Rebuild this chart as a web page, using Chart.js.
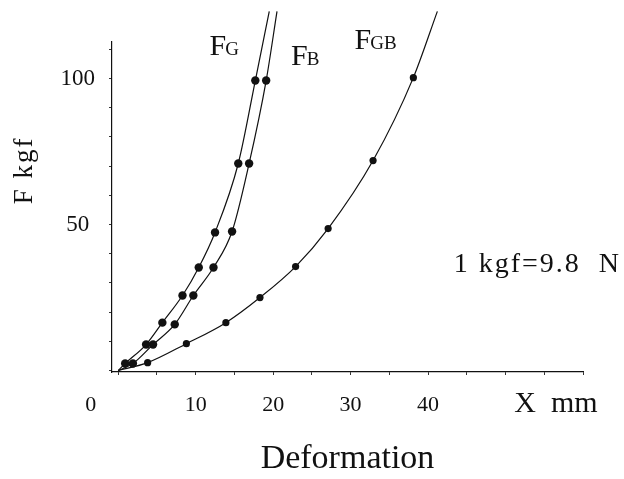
<!DOCTYPE html>
<html>
<head>
<meta charset="utf-8">
<script src="https://cdn.jsdelivr.net/npm/chart.js@4.4.0/dist/chart.umd.min.js"></script>
<style>
  html, body { margin: 0; padding: 0; background: #fff; }
  #wrap { width: 624px; height: 479px; }
</style>
</head>
<body>
<div id="wrap"><canvas id="myChart" width="624" height="479"></canvas></div>
<script>
// deformation X (mm) and force F (kgf)
// first and last entries are the curve ends (no dot drawn)
const fgX  = [0, 0.9, 3.6, 5.7, 8.3, 10.4, 12.5, 15.5, 17.7, 19.5];
const fgY  = [0, 2.4, 8.9, 16.4, 25.7, 35.3, 47.3, 70.9, 99.3, 123];
const fbX  = [0, 1.9, 4.5, 7.3, 9.7, 12.3, 14.7, 16.9, 19.1, 20.5];
const fbY  = [0, 2.4, 8.9, 15.8, 25.7, 35.3, 47.6, 70.9, 99.3, 123];
const fgbX = [0, 3.8, 8.8, 13.9, 18.3, 22.9, 27.1, 32.9, 38.1, 41.2];
const fgbY = [0, 2.7, 9.2, 16.4, 25.0, 35.6, 48.6, 71.9, 100.3, 123];

const xTickLabels = [0, 10, 20, 30, 40];
const yTickLabels = [50, 100];

const serif = "'Liberation Serif', 'DejaVu Serif', serif";

function toPoints(xs, ys) {
  return xs.map((x, i) => ({ x: x, y: ys[i] }));
}

// dots on the measured points only, not on the curve ends
function dotRadius(r) {
  return function(ctx) {
    const n = ctx.dataset.data.length;
    return (ctx.dataIndex === 0 || ctx.dataIndex === n - 1) ? 0 : r;
  };
}

function curve(label, xs, ys, r) {
  return {
    label: label,
    data: toPoints(xs, ys),
    borderColor: '#111',
    backgroundColor: '#111',
    borderWidth: 1.2,
    pointRadius: dotRadius(r),
    pointHoverRadius: dotRadius(r),
    pointBorderWidth: 0,
    cubicInterpolationMode: 'monotone',
    clip: false
  };
}

// F with a small capital subscript, like the scan
function subLabel(ctx, main, sub, x, y) {
  ctx.font = '30px ' + serif;
  ctx.fillText(main, x, y);
  const w = ctx.measureText(main).width;
  ctx.font = '19px ' + serif;
  ctx.fillText(sub, x + w - 1, y);
}

const textPlugin = {
  id: 'textPlugin',
  afterDraw(chart) {
    const ctx = chart.ctx;
    const xs = chart.scales.x;
    const ys = chart.scales.y;
    ctx.save();
    ctx.fillStyle = '#111';
    ctx.textBaseline = 'alphabetic';
    ctx.textAlign = 'left';
    subLabel(ctx, 'F', 'G', xs.getPixelForValue(11.8), ys.getPixelForValue(108));
    subLabel(ctx, 'F', 'B', xs.getPixelForValue(22.3), ys.getPixelForValue(104.5));
    subLabel(ctx, 'F', 'GB', xs.getPixelForValue(30.5), ys.getPixelForValue(110));

    ctx.font = '28px ' + serif;
    ctx.letterSpacing = '2px';
    ctx.fillText('1 kgf=9.8  N', xs.getPixelForValue(43.3), ys.getPixelForValue(33.6));

    ctx.letterSpacing = '0px';
    ctx.textAlign = 'center';
    ctx.textBaseline = 'middle';
    ctx.font = '30px ' + serif;
    ctx.fillText('X  mm', xs.getPixelForValue(56.5), chart.chartArea.bottom + 32);

    ctx.translate(25, ys.getPixelForValue(68.5));
    ctx.rotate(-Math.PI / 2);
    ctx.font = '27px ' + serif;
    ctx.letterSpacing = '2px';
    ctx.fillText('F kgf', 0, 0);
    ctx.restore();
  }
};

const data = {
  datasets: [
    curve('FG', fgX, fgY, 4.2),
    curve('FB', fbX, fbY, 4.2),
    curve('FGB', fgbX, fgbY, 3.6)
  ]
};

const config = {
  type: 'line',
  data: data,
  plugins: [textPlugin],
  options: {
    responsive: false,
    animation: false,
    events: [],
    layout: { padding: { top: 42, right: 41, left: 0, bottom: 0 } },
    plugins: {
      legend: { display: false },
      tooltip: { enabled: false }
    },
    scales: {
      x: {
        type: 'linear',
        min: -0.8,
        max: 60,
        afterFit: function(scale) { scale.height = 107; },
        border: { display: true, color: '#111', width: 1.2 },
        grid: { drawOnChartArea: false, drawTicks: true, tickLength: 3, color: '#333' },
        ticks: {
          stepSize: 5,
          includeBounds: false,
          autoSkip: false,
          maxRotation: 0,
          padding: 17,
          color: '#111',
          font: { family: serif, size: 22 },
          callback: function(v) {
            if (!xTickLabels.includes(v)) return '';
            // the scan sets its "0" well left of the origin
            return v === 0 ? '0\u2002\u2002\u2002\u2002\u2002' : String(v);
          }
        },
        title: {
          display: true,
          text: 'Deformation',
          color: '#111',
          font: { family: serif, size: 34 },
          padding: { top: 0, bottom: 0 }
        }
      },
      y: {
        type: 'linear',
        min: -0.5,
        max: 112.5,
        afterFit: function(scale) { scale.width = 112; },
        border: { display: true, color: '#111', width: 1.2 },
        grid: { drawOnChartArea: false, drawTicks: true, tickLength: 3, color: '#333' },
        ticks: {
          stepSize: 10,
          includeBounds: false,
          autoSkip: false,
          padding: 14,
          crossAlign: 'center',
          color: '#111',
          font: { family: serif, size: 23 },
          callback: function(v) { return yTickLabels.includes(v) ? String(v) : ''; }
        }
      }
    }
  }
};

var myChart = new Chart(document.getElementById('myChart'), config);
</script>
</body>
</html>
